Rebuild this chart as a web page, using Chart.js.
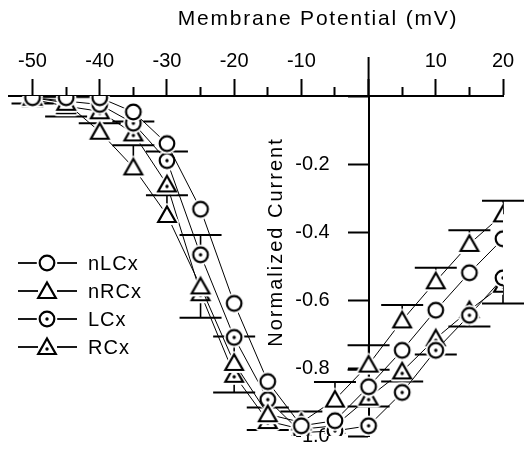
<!DOCTYPE html>
<html>
<head>
<meta charset="utf-8">
<script src="https://cdn.jsdelivr.net/npm/chart.js@4.4.1/dist/chart.umd.min.js"></script>
<style>
  html, body { margin: 0; padding: 0; background: #fff; }
  #wrap { width: 527px; height: 451px; }
</style>
</head>
<body>
<div id="wrap"><canvas id="c" width="527" height="451"></canvas></div>
<script>
// ---- data ----
const potentials = [-50, -45, -40, -35, -30, -25, -20, -15, -10, -5, 0, 5, 10, 15, 20];
const nLCx = [-0.005, -0.005, -0.005, -0.047, -0.14, -0.333, -0.61, -0.84, -0.97, -0.955, -0.855, -0.748, -0.63, -0.52, -0.42];
const nRCx = [-0.005, -0.02, -0.105, -0.21, -0.35, -0.56, -0.785, -0.936, -0.96, -0.893, -0.79, -0.66, -0.545, -0.435, -0.348];
const LCx  = [-0.005, -0.015, -0.025, -0.08, -0.19, -0.467, -0.71, -0.893, -0.99, -0.985, -0.97, -0.872, -0.748, -0.645, -0.535];
const RCx  = [-0.01, -0.03, -0.045, -0.11, -0.26, -0.58, -0.82, -0.956, -0.98, -0.97, -0.887, -0.81, -0.713, -0.63, -0.555];
// signed error bars: + drawn upward (toward 0), - drawn downward
const nLCxErr = [null, null, null, null, null, null, null, null, null, null, 0.05, null, null, null, null];
const nRCxErr = [null, null, 0.025, 0.065, 0.058, null, 0.078, 0.02, 0.032, 0.052, 0.057, 0.045, 0.04, 0.04, 0.04];
const LCxErr  = [null, null, null, null, 0.027, 0.058, null, null, null, null, null, null, null, null, null];
const RCxErr  = [-0.012, -0.03, null, 0.035, null, -0.072, -0.052, -0.026, null, null, -0.026, -0.03, -0.047, -0.048, -0.055];
const seriesNames = ['nLCx', 'nRCx', 'LCx', 'RCx'];
const xTickValues = [-50, -45, -40, -35, -30, -25, -20, -15, -10, -5, 0, 5, 10, 15, 20];
const yTickValues = [0, -0.2, -0.4, -0.6, -0.8, -1.0];
const xTitle = 'Membrane Potential (mV)';
const yTitle = 'Normalized Current';

const FONT = "'Liberation Sans', Arial, Helvetica, sans-serif";

function makeMarker(shape, dot) {
  const s = 26;
  const c = document.createElement('canvas');
  c.width = s; c.height = s;
  const g = c.getContext('2d');
  const cx = s / 2, cy = s / 2;
  function path() {
    g.beginPath();
    if (shape === 'circle') {
      g.arc(cx, cy, 7.3, 0, Math.PI * 2);
    } else {
      g.moveTo(cx, cy - 8.5);
      g.lineTo(cx + 8.8, cy + 7);
      g.lineTo(cx - 8.8, cy + 7);
      g.closePath();
    }
  }
  // white halo so connecting lines stop short of the symbol
  path();
  g.lineWidth = 6; g.strokeStyle = '#fff'; g.lineJoin = 'round'; g.stroke();
  path();
  g.fillStyle = '#fff'; g.fill();
  g.lineWidth = 2.2; g.strokeStyle = '#000'; g.lineJoin = 'miter'; g.stroke();
  if (dot) {
    g.beginPath();
    g.arc(cx, shape === 'circle' ? cy : cy + 2, 1.7, 0, Math.PI * 2);
    g.fillStyle = '#000'; g.fill();
  }
  return c;
}

const markers = [
  makeMarker('circle', false),
  makeMarker('triangle', false),
  makeMarker('circle', true),
  makeMarker('triangle', true)
];
const seriesValues = [nLCx, nRCx, LCx, RCx];
const seriesErrors = [nLCxErr, nRCxErr, LCxErr, RCxErr];

const datasets = seriesNames.map((name, k) => ({
  label: name,
  data: potentials.map((x, i) => ({ x: x, y: seriesValues[k][i] })),
  borderColor: '#000',
  borderWidth: 1,
  pointStyle: markers[k],
  pointRadius: 8,
  pointHoverRadius: 8,
  fill: false,
  tension: 0
}));

const errorBarPlugin = {
  id: 'errorBars',
  beforeDatasetsDraw(chart) {
    const ctx = chart.ctx;
    const xs = chart.scales.x, ys = chart.scales.y;
    ctx.save();
    ctx.strokeStyle = '#000';
    // the y axis line continues a little above the x axis
    const x0 = xs.getPixelForValue(0);
    ctx.lineWidth = 2;
    ctx.beginPath(); ctx.moveTo(x0, chart.chartArea.top); ctx.lineTo(x0, chart.chartArea.top - 39); ctx.stroke();
    seriesErrors.forEach((errs, k) => {
      errs.forEach((e, i) => {
        if (e === null || e === undefined) return;
        const v = seriesValues[k][i];
        const px = xs.getPixelForValue(potentials[i]);
        const py = ys.getPixelForValue(v);
        const pe = ys.getPixelForValue(v + e);
        ctx.lineWidth = 1.6;
        ctx.beginPath(); ctx.moveTo(px, py); ctx.lineTo(px, pe); ctx.stroke();
        ctx.lineWidth = 2;
        ctx.beginPath(); ctx.moveTo(px - 21, pe); ctx.lineTo(px + 21, pe); ctx.stroke();
      });
    });
    ctx.restore();
  }
};

const textPlugin = {
  id: 'titlesAndLegend',
  afterDraw(chart) {
    const ctx = chart.ctx;
    ctx.save();
    ctx.fillStyle = '#000';
    ctx.textBaseline = 'middle';
    // x axis title
    ctx.font = '21px ' + FONT;
    if ('letterSpacing' in ctx) ctx.letterSpacing = '1.8px';
    ctx.textAlign = 'center';
    ctx.fillText(xTitle, 318, 19);
    // y axis title (rotated, reading upward)
    ctx.font = '20px ' + FONT;
    if ('letterSpacing' in ctx) ctx.letterSpacing = '2px';
    ctx.save();
    ctx.translate(276, 242);
    ctx.rotate(-Math.PI / 2);
    ctx.fillText(yTitle, 0, 0);
    ctx.restore();
    // legend
    ctx.font = '20px ' + FONT;
    if ('letterSpacing' in ctx) ctx.letterSpacing = '1px';
    ctx.textAlign = 'left';
    const rows = [263, 291, 319, 347];
    seriesNames.forEach((name, k) => {
      const y = rows[k];
      ctx.strokeStyle = '#000';
      ctx.lineWidth = 1.8;
      ctx.beginPath(); ctx.moveTo(18, y); ctx.lineTo(38, y); ctx.stroke();
      ctx.beginPath(); ctx.moveTo(57, y); ctx.lineTo(77, y); ctx.stroke();
      const m = markers[k];
      ctx.drawImage(m, 47 - m.width / 2, y - m.height / 2);
      ctx.fillText(name, 88, y + 1);
    });
    ctx.restore();
  }
};

new Chart(document.getElementById('c'), {
  type: 'line',
  data: { datasets: datasets },
  options: {
    responsive: false,
    animation: false,
    events: [],
    layout: { padding: { top: 43, left: 8, right: 24, bottom: 9 } },
    plugins: { legend: { display: false }, tooltip: { enabled: false }, title: { display: false } },
    scales: {
      x: {
        type: 'linear',
        position: 'top',
        min: -53.5,
        max: 20,
        afterBuildTicks: s => { s.ticks = xTickValues.map(v => ({ value: v })); },
        ticks: {
          autoSkip: false,
          maxRotation: 0,
          padding: 6,
          color: '#000',
          font: { family: FONT, size: 20 },
          callback: v => (v % 10 === 0 && v !== 0) ? String(v) : ''
        },
        grid: {
          drawOnChartArea: false,
          tickLength: 17,
          tickWidth: 2,
          tickColor: '#000',
          tickBorderDash: c => (c.tick && c.tick.value % 10 !== 0) ? [0, 8, 20, 100] : []
        },
        border: { color: '#000', width: 2 }
      },
      y: {
        type: 'linear',
        position: { x: 0 },
        min: -1.0,
        max: 0,
        afterBuildTicks: s => { s.ticks = yTickValues.map(v => ({ value: v })); },
        ticks: {
          autoSkip: false,
          color: '#000',
          font: { family: FONT, size: 20 },
          callback: v => v === 0 ? '' : v.toFixed(1) + '       '
        },
        grid: {
          drawOnChartArea: false,
          tickLength: 20,
          tickWidth: 2,
          tickColor: '#000'
        },
        border: { color: '#000', width: 2 }
      }
    }
  },
  plugins: [errorBarPlugin, textPlugin]
});
</script>
</body>
</html>
